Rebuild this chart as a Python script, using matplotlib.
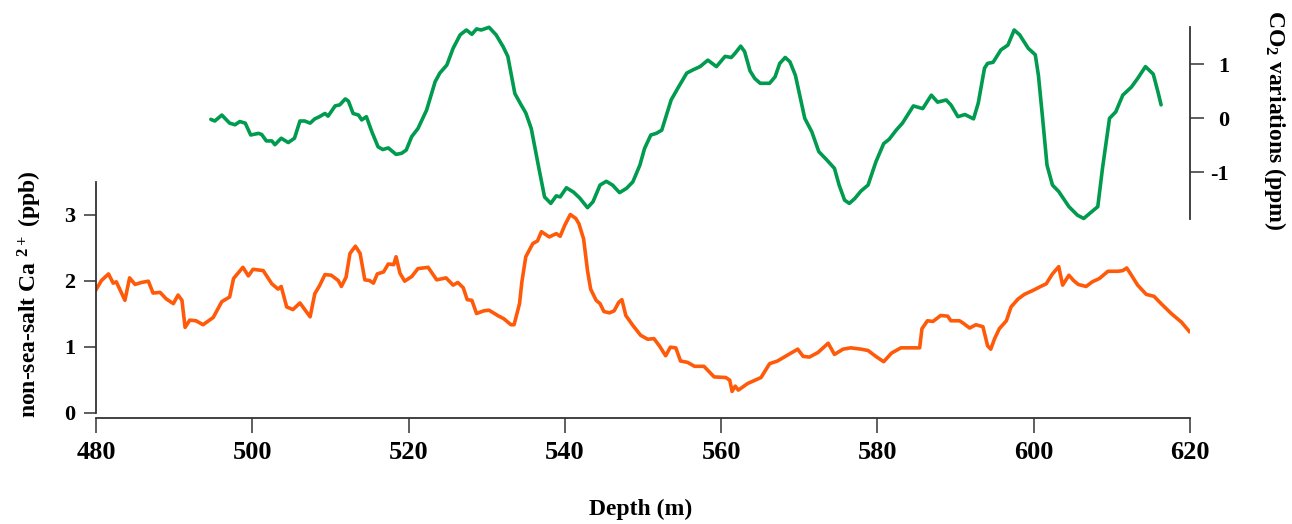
import matplotlib
matplotlib.use("Agg")
import matplotlib.pyplot as plt

# ── Series ──────────────────────────────────────────────────────────────────
ca_depth = [480.0, 480.7, 481.6, 482.2, 482.6, 483.7, 484.3, 485.0, 485.8, 486.7,
            487.3, 488.2, 489.0, 489.9, 490.5, 491.0, 491.4, 492.0, 492.8, 493.7,
            495.0, 496.1, 497.1, 497.6, 498.8, 499.5, 500.1, 501.4, 502.5, 503.3,
            503.7, 504.4, 505.2, 506.1, 507.4, 508.0, 508.6, 509.3, 510.1, 511.0,
            511.4, 512.0, 512.5, 513.2, 513.8, 514.4, 515.0, 515.5, 516.0, 516.8,
            517.4, 518.1, 518.4, 518.9, 519.5, 520.4, 521.2, 522.5, 523.6, 524.8,
            525.7, 526.3, 527.0, 527.5, 528.1, 528.7, 529.6, 530.3, 531.4, 532.2,
            533.1, 533.5, 534.2, 534.5, 535.0, 535.9, 536.5, 537.0, 538.0, 538.9,
            539.4, 540.0, 540.7, 541.4, 541.8, 542.4, 542.9, 543.3, 544.0, 544.5,
            545.0, 545.7, 546.3, 546.9, 547.3, 547.8, 548.7, 549.7, 550.6, 551.4,
            552.1, 552.9, 553.5, 554.2, 554.8, 555.7, 556.6, 557.8, 559.1, 560.6,
            561.1, 561.4, 561.8, 562.2, 563.4, 565.1, 566.2, 567.2, 568.5, 569.8,
            570.5, 571.3, 572.4, 573.7, 574.5, 575.6, 576.6, 577.9, 578.8, 579.8,
            580.8, 581.8, 583.0, 585.4, 585.7, 586.4, 587.1, 588.1, 589.0, 589.4,
            590.5, 590.9, 591.8, 592.6, 593.5, 594.1, 594.5, 595.0, 595.6, 596.5,
            597.1, 598.0, 598.8, 599.9, 600.9, 601.6, 602.4, 603.2, 603.7, 604.5,
            605.1, 605.7, 606.7, 607.5, 608.4, 609.5, 610.8, 611.4, 611.9, 612.4,
            613.3, 614.4, 615.4, 616.3, 617.6, 618.9, 619.9]
ca_ppb = [1.86, 2.00, 2.10, 1.96, 1.98, 1.70, 2.04, 1.94, 1.97, 1.99,
          1.81, 1.82, 1.72, 1.65, 1.78, 1.70, 1.29, 1.40, 1.39, 1.33,
          1.44, 1.68, 1.75, 2.03, 2.20, 2.07, 2.17, 2.15, 1.95, 1.87,
          1.91, 1.60, 1.56, 1.66, 1.45, 1.80, 1.92, 2.09, 2.08, 2.00,
          1.91, 2.05, 2.41, 2.52, 2.41, 2.01, 2.00, 1.96, 2.10, 2.13,
          2.25, 2.24, 2.36, 2.11, 1.99, 2.06, 2.18, 2.20, 2.01, 2.04,
          1.93, 1.97, 1.89, 1.71, 1.70, 1.50, 1.54, 1.55, 1.47, 1.42,
          1.33, 1.33, 1.65, 1.98, 2.36, 2.56, 2.60, 2.74, 2.66, 2.71,
          2.67, 2.84, 3.00, 2.94, 2.86, 2.63, 2.15, 1.87, 1.70, 1.65,
          1.53, 1.51, 1.54, 1.67, 1.71, 1.47, 1.32, 1.17, 1.11, 1.12,
          1.01, 0.86, 0.99, 0.98, 0.78, 0.76, 0.70, 0.70, 0.54, 0.53,
          0.49, 0.32, 0.40, 0.34, 0.44, 0.53, 0.74, 0.78, 0.87, 0.96,
          0.85, 0.84, 0.91, 1.05, 0.88, 0.96, 0.98, 0.96, 0.94, 0.85,
          0.77, 0.90, 0.98, 0.98, 1.27, 1.39, 1.38, 1.47, 1.46, 1.39,
          1.39, 1.36, 1.28, 1.33, 1.30, 1.01, 0.96, 1.12, 1.27, 1.39,
          1.60, 1.72, 1.79, 1.85, 1.91, 1.95, 2.10, 2.21, 1.93, 2.08,
          2.00, 1.94, 1.91, 1.98, 2.03, 2.14, 2.14, 2.15, 2.19, 2.10,
          1.93, 1.79, 1.76, 1.65, 1.50, 1.37, 1.23]

co2_depth = [494.7, 495.2, 496.1, 497.1, 497.8, 498.4, 499.1, 499.8, 500.8, 501.2,
             501.8, 502.5, 502.9, 503.7, 504.6, 505.4, 506.1, 506.7, 507.4, 508.0,
             508.6, 509.3, 509.7, 510.6, 511.2, 511.9, 512.3, 512.9, 513.6, 514.0,
             514.6, 515.3, 516.1, 516.7, 517.4, 518.4, 519.1, 519.7, 520.4, 521.2,
             522.3, 523.4, 524.0, 524.9, 525.7, 526.6, 527.4, 528.1, 528.7, 529.3,
             530.3, 531.2, 532.1, 532.7, 533.6, 534.4, 535.0, 535.7, 536.6, 537.4,
             538.2, 538.9, 539.4, 540.2, 541.1, 541.9, 542.9, 543.6, 544.5, 545.3,
             546.1, 547.0, 547.9, 548.7, 549.6, 550.2, 551.0, 551.7, 552.4, 553.0,
             553.6, 554.5, 555.6, 556.4, 557.3, 558.3, 559.4, 560.5, 561.3, 561.8,
             562.5, 563.0, 563.7, 564.3, 565.0, 566.2, 566.9, 567.5, 568.2, 568.8,
             569.5, 570.1, 570.7, 571.6, 572.5, 573.5, 574.5, 575.1, 575.8, 576.4,
             577.1, 577.9, 578.8, 579.8, 580.8, 581.5, 582.4, 583.2, 584.6, 585.8,
             586.9, 587.7, 588.8, 589.4, 590.3, 591.2, 592.3, 592.9, 593.7, 594.1,
             594.8, 595.8, 596.7, 597.5, 598.2, 599.3, 600.2, 600.6, 601.1, 601.7,
             602.4, 603.2, 604.5, 605.6, 606.4, 607.3, 608.2, 608.8, 609.7, 610.5,
             611.4, 612.5, 613.3, 614.3, 615.3, 615.9, 616.3]
co2_ppm = [-0.02, -0.05, 0.06, -0.09, -0.12, -0.06, -0.09, -0.31, -0.28, -0.30,
           -0.42, -0.42, -0.49, -0.37, -0.45, -0.37, -0.05, -0.05, -0.09, -0.01,
           0.03, 0.09, 0.04, 0.23, 0.25, 0.36, 0.32, 0.09, 0.06, -0.03,
           0.03, -0.25, -0.53, -0.58, -0.55, -0.67, -0.65, -0.59, -0.34, -0.19,
           0.15, 0.68, 0.84, 0.99, 1.30, 1.55, 1.64, 1.56, 1.66, 1.64,
           1.69, 1.55, 1.33, 1.15, 0.46, 0.25, 0.10, -0.19, -0.87, -1.46,
           -1.58, -1.44, -1.46, -1.29, -1.37, -1.48, -1.66, -1.55, -1.24, -1.17,
           -1.24, -1.38, -1.30, -1.18, -0.87, -0.56, -0.31, -0.28, -0.22, 0.06,
           0.34, 0.57, 0.84, 0.90, 0.96, 1.08, 0.96, 1.15, 1.13, 1.21,
           1.34, 1.24, 0.88, 0.74, 0.65, 0.65, 0.77, 1.02, 1.13, 1.05,
           0.80, 0.40, 0.00, -0.25, -0.62, -0.77, -0.93, -1.24, -1.52, -1.58,
           -1.49, -1.35, -1.24, -0.81, -0.47, -0.39, -0.22, -0.09, 0.23, 0.18,
           0.43, 0.30, 0.34, 0.25, 0.03, 0.07, -0.01, 0.28, 0.93, 1.02,
           1.04, 1.27, 1.36, 1.64, 1.55, 1.30, 1.18, 0.80, 0.06, -0.87,
           -1.24, -1.36, -1.64, -1.80, -1.86, -1.75, -1.64, -0.93, 0.00, 0.12,
           0.43, 0.58, 0.74, 0.96, 0.82, 0.49, 0.25]

depth_ticks = [480, 500, 520, 540, 560, 580, 600, 620]
ca_ticks = [0, 1, 2, 3]
co2_ticks = [-1, 0, 1]

ORANGE = "#FF5A0A"
GREEN = "#009B4E"
AXIS = "#333333"

plt.rcParams["font.family"] = ["Liberation Serif", "DejaVu Serif"]
plt.rcParams["font.weight"] = "bold"
plt.rcParams["mathtext.fontset"] = "custom"
plt.rcParams["mathtext.rm"] = "Liberation Serif:bold"
plt.rcParams["mathtext.bf"] = "Liberation Serif:bold"
plt.rcParams["mathtext.it"] = "Liberation Serif:bold"
plt.rcParams["mathtext.default"] = "rm"

fig = plt.figure(figsize=(12.92, 5.24), dpi=100)
left, width = 96 / 1292, 1094 / 1292

# lower panel: nss-Ca2+
ax1 = fig.add_axes([left, 1 - 418.4 / 524, width, (418.4 - 181.5) / 524])
ax1.plot(ca_depth, ca_ppb, color=ORANGE, lw=2.6, solid_joinstyle="round")
ax1.set_xlim(480, 620)
ax1.set_ylim(-0.089, 3.5)
ax1.set_xticks(depth_ticks)
ax1.set_yticks(ca_ticks)
for s in ("top", "right"):
    ax1.spines[s].set_visible(False)
for s in ("left", "bottom"):
    ax1.spines[s].set_color(AXIS)
    ax1.spines[s].set_linewidth(1.3)
ax1.spines["left"].set_bounds(0, 3.5)
ax1.tick_params(axis="x", length=11, width=1.1, color=AXIS, pad=5, labelsize=19)
ax1.tick_params(axis="y", length=9, width=1.1, color=AXIS, pad=6, labelsize=16)

# upper panel: CO2 on its own right-hand axis
ax2 = fig.add_axes([left, 1 - 219 / 524, width, (219 - 27.3) / 524])
ax2.patch.set_visible(False)
ax2.plot(co2_depth, co2_ppm, color=GREEN, lw=2.6, solid_joinstyle="round",
         solid_capstyle="round", clip_on=False)
ax2.set_xlim(480, 620)
ax2.set_ylim(-1.87, 1.69)
ax2.set_yticks(co2_ticks)
ax2.set_yticklabels([str(t) for t in co2_ticks])
for s in ("top", "left", "bottom"):
    ax2.spines[s].set_visible(False)
ax2.spines["right"].set_color(AXIS)
ax2.spines["right"].set_linewidth(1.3)
ax2.xaxis.set_visible(False)
ax2.yaxis.tick_right()
ax2.tick_params(axis="y", length=10, width=1.1, color=AXIS, pad=18, labelsize=16)
for lab in ax2.get_yticklabels():
    lab.set_horizontalalignment("right")

fig.text(0.0232, 0.439, "non-sea-salt Ca $^{2+}$ (ppb)", rotation=90,
         ha="center", va="center", fontsize=17, fontweight="bold")
fig.text(0.9869, 0.771, "CO$_2$ variations (ppm)", rotation=270,
         ha="center", va="center", fontsize=17, fontweight="bold")
fig.text(0.496, 0.027, "Depth (m)", ha="center", va="center",
         fontsize=17, fontweight="bold")

fig.savefig("out.png", dpi=100, facecolor="white")
